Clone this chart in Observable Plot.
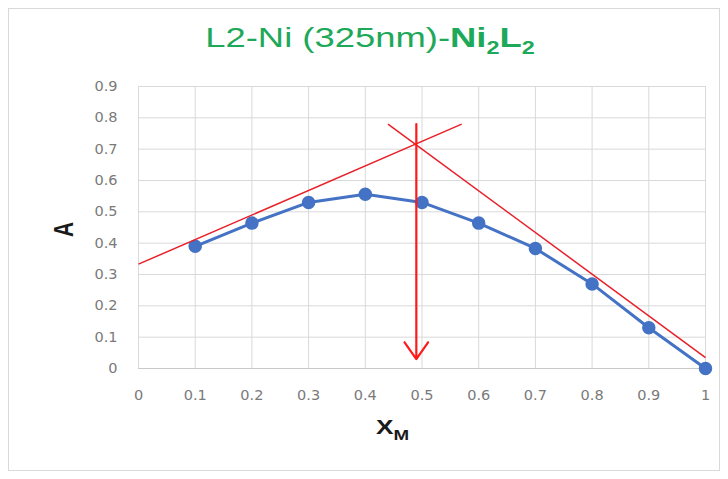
<!DOCTYPE html>
<html>
<head>
<meta charset="utf-8">
<script src="https://cdn.jsdelivr.net/npm/d3@7"></script>
<script src="https://cdn.jsdelivr.net/npm/@observablehq/plot@0.6"></script>
<style>
  html, body { margin: 0; padding: 0; background: #fff; }
  #wrap { position: relative; width: 728px; height: 479px; overflow: hidden; }
  #border { position: absolute; left: 8px; top: 8px; width: 712px; height: 463px; border: 1px solid #d9d9d9; box-sizing: border-box; }
  #title { position: absolute; left: 170px; width: 400px; top: 22px; text-align: center; white-space: nowrap; font-family: "Liberation Sans", Arial, sans-serif; font-size: 28px; color: #1ea85a; transform: scaleX(1.3); transform-origin: center; }
  #title sub { font-size: 18px; }
  #ylab { position: absolute; left: 51px; top: 216px; width: 24px; text-align: center; font-family: "Liberation Sans", Arial, sans-serif; font-weight: bold; font-size: 21px; line-height: 27px; color: #1a1a1a; transform: scaleX(1.35) rotate(-90deg); transform-origin: center; }
  #xlab { position: absolute; left: 376px; top: 415px; white-space: nowrap; font-family: "Liberation Sans", Arial, sans-serif; font-weight: bold; font-size: 21px; color: #1a1a1a; transform: scaleX(1.25); transform-origin: left center; }
  #xlab sub { font-size: 15px; vertical-align: -6px; }
  #plot { position: absolute; left: 0; top: 0; }
</style>
</head>
<body>
<div id="wrap">
  <div id="border"></div>
  <div id="plot"></div>
  <div id="title">L2-Ni (325nm)-<b>Ni<sub>2</sub>L<sub>2</sub></b></div>
  <div id="ylab">A</div>
  <div id="xlab">X<sub>M</sub></div>
</div>
<script>
// Data
const xM = [0.1, 0.2, 0.3, 0.4, 0.5, 0.6, 0.7, 0.8, 0.9, 1.0];
const absorbance = [0.39, 0.464, 0.53, 0.556, 0.53, 0.464, 0.383, 0.27, 0.13, 0.0];

// Tangent lines (endpoints)
const tangentX1 = [0.0, 0.44];
const tangentY1 = [0.333, 0.78];
const tangentX2 = [0.57, 1.0];
const tangentY2 = [0.78, 0.035];

// Arrow at intersection
const arrowX = [0.49];
const arrowYTop = [0.78];
const arrowYBottom = [0.03];

const xTicks = [0, 0.1, 0.2, 0.3, 0.4, 0.5, 0.6, 0.7, 0.8, 0.9, 1];
const yTicks = [0, 0.1, 0.2, 0.3, 0.4, 0.5, 0.6, 0.7, 0.8, 0.9];

const points = xM.map((x, i) => ({x, y: absorbance[i]}));
const tangents = tangentX1.map((x1, i) => ({x1, y1: tangentY1[i], x2: tangentX2[i], y2: tangentY2[i]}));
const arrows = arrowX.map((x, i) => ({x, y1: arrowYTop[i], y2: arrowYBottom[i]}));

const fmt = d => String(+d.toFixed(1));

const chart = Plot.plot({
  width: 728,
  height: 479,
  marginLeft: 138,
  marginRight: 23,
  marginTop: 86,
  marginBottom: 111,
  style: {background: "transparent", fontFamily: "'DejaVu Sans', sans-serif", fontSize: "14.5px", color: "#7a7a7a"},
  x: {domain: [0, 1], ticks: xTicks, tickFormat: fmt, tickSize: 0, label: null},
  y: {domain: [0, 0.9], ticks: yTicks, tickFormat: fmt, tickSize: 0, label: null},
  marks: [
    Plot.gridX(xTicks, {stroke: "#d9d9d9", strokeOpacity: 1, strokeWidth: 1}),
    Plot.gridY(yTicks, {stroke: "#d9d9d9", strokeOpacity: 1, strokeWidth: 1}),
    Plot.ruleY([0], {stroke: "#c8c8c8"}),
    Plot.line(points, {x: "x", y: "y", stroke: "#4472c4", strokeWidth: 3}),
    Plot.dot(points, {x: "x", y: "y", r: 6, fill: "#4472c4", stroke: "#4472c4"}),
    Plot.link(tangents, {x1: "x1", y1: "y1", x2: "x2", y2: "y2", stroke: "#e8202a", strokeWidth: 1.5}),
    Plot.arrow(arrows, {x1: "x", y1: "y1", x2: "x", y2: "y2", stroke: "#ff1a1a", strokeWidth: 2.2, headLength: 14, headAngle: 70}),
    Plot.axisX(xTicks, {tickFormat: fmt, tickSize: 0, tickPadding: 21, fill: "#7a7a7a"}),
    Plot.axisY(yTicks, {tickFormat: fmt, tickSize: 0, tickPadding: 21, fill: "#7a7a7a"})
  ]
});
document.getElementById("plot").appendChild(chart);
</script>
</body>
</html>
